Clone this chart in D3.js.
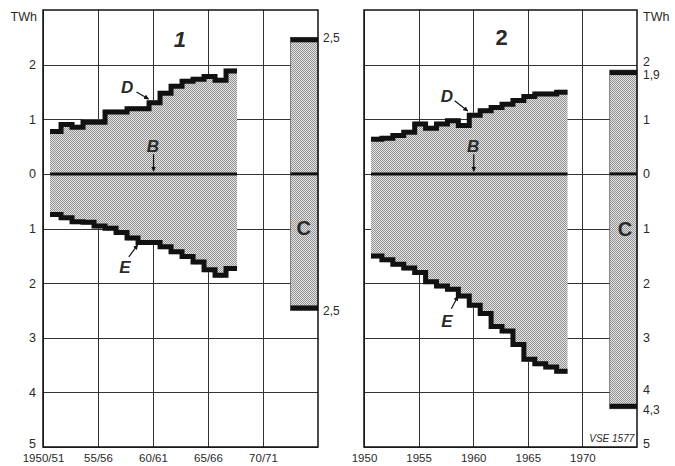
<!DOCTYPE html>
<html>
<head>
<meta charset="utf-8">
<script src="https://cdn.jsdelivr.net/npm/d3@7"></script>
<style>
    body { margin: 0; background: #fff; }
    text { font-family: "Liberation Sans", Arial, sans-serif; fill: #2a2a2a; }
</style>
</head>
<body>
<svg id="chart" width="675" height="466"></svg>
<script>
// Panel 1: hydrological years 1950/51 .. 1966/67
const years1 = ["1950/51", "1951/52", "1952/53", "1953/54", "1954/55", "1955/56", "1956/57", "1957/58", "1958/59",
    "1959/60", "1960/61", "1961/62", "1962/63", "1963/64", "1964/65", "1965/66", "1966/67"];
const d1 = [0.82, 0.95, 0.90, 0.99, 0.99, 1.18, 1.18, 1.24, 1.24, 1.35, 1.52, 1.65, 1.74, 1.78, 1.83, 1.76, 1.93];
const e1 = [0.79, 0.85, 0.92, 0.93, 1.00, 1.04, 1.12, 1.22, 1.30, 1.30, 1.38, 1.47, 1.56, 1.66, 1.80, 1.90, 1.78];
const c1 = [2.5, 2.5];   // C: top, bottom

// Panel 2: years 1951 .. 1968
const years2 = [1951, 1952, 1953, 1954, 1955, 1956, 1957, 1958, 1959, 1960, 1961, 1962, 1963, 1964, 1965, 1966, 1967, 1968];
const d2 = [0.68, 0.70, 0.75, 0.81, 0.96, 0.88, 0.96, 1.02, 0.93, 1.12, 1.20, 1.26, 1.32, 1.39, 1.46, 1.51, 1.51, 1.54];
const e2 = [1.55, 1.62, 1.70, 1.77, 1.85, 2.02, 2.10, 2.16, 2.28, 2.45, 2.60, 2.84, 2.92, 3.17, 3.44, 3.52, 3.58, 3.66];
const c2 = [1.9, 4.3];

// tick labels
const xTickValues = [1950, 1955, 1960, 1965, 1970];
const xLabels1 = ["1950/51", "55/56", "60/61", "65/66", "70/71"];
const xLabels2 = ["1950", "1955", "1960", "1965", "1970"];
const yTickValues = [2, 1, 0, -1, -2, -3, -4, -5];

const svg = d3.select('#chart');

// stippled fill
const defs = svg.append('defs');
const pat = defs.append('pattern')
    .attr('id', 'dots')
    .attr('width', 2).attr('height', 2)
    .attr('patternUnits', 'userSpaceOnUse');
pat.append('rect').attr('width', 2).attr('height', 2).attr('fill', '#e4e4e4');
pat.append('rect').attr('width', 1).attr('height', 1).attr('fill', '#929292');
pat.append('rect').attr('x', 1).attr('y', 1).attr('width', 1).attr('height', 1).attr('fill', '#929292');

defs.append('marker')
    .attr('id', 'arrow')
    .attr('viewBox', '0 0 10 10')
    .attr('refX', 9).attr('refY', 5)
    .attr('markerWidth', 5).attr('markerHeight', 5)
    .attr('markerUnits', 'userSpaceOnUse')
    .attr('orient', 'auto')
    .append('path').attr('d', 'M0,0L10,5L0,10Z').attr('fill', '#111');

const y = d3.scaleLinear().domain([3, -5]).range([10, 447]);

const STEP_START = 1950.64;   // first step begins a bit after the 1950 grid line
const C_FROM = 1972.5, C_TO = 1975;

function drawPanel(p) {
    const x = d3.scaleLinear().domain([1950, 1975]).range([p.left, p.right]);
    const g = svg.append('g');

    // grid
    g.selectAll('.hgrid').data(yTickValues).enter().append('line')
        .attr('x1', x(1950)).attr('x2', x(1975))
        .attr('y1', d => Math.round(y(d)) + 0.5).attr('y2', d => Math.round(y(d)) + 0.5)
        .attr('stroke', '#333').attr('stroke-width', 1);
    g.selectAll('.vgrid').data(xTickValues).enter().append('line')
        .attr('x1', d => Math.round(x(d)) + 0.5).attr('x2', d => Math.round(x(d)) + 0.5)
        .attr('y1', y(3)).attr('y2', y(-5))
        .attr('stroke', '#333').attr('stroke-width', 1);

    // stepped series
    let pts = p.d.map((v, i) => ({ t: STEP_START + i, d: v, e: p.e[i] }));
    let last = pts[pts.length - 1];
    pts.push({ t: last.t + 1, d: last.d, e: last.e });

    const area = d3.area()
        .x(d => x(d.t))
        .y0(d => y(-d.e))
        .y1(d => y(d.d))
        .curve(d3.curveStepAfter);
    g.append('path').attr('d', area(pts)).attr('fill', 'url(#dots)');

    const lineD = d3.line().x(d => x(d.t)).y(d => y(d.d)).curve(d3.curveStepAfter);
    const lineE = d3.line().x(d => x(d.t)).y(d => y(-d.e)).curve(d3.curveStepAfter);
    g.append('path').attr('d', lineD(pts)).attr('fill', 'none')
        .attr('stroke', '#111').attr('stroke-width', 5).attr('transform', 'translate(0,2.5)');
    g.append('path').attr('d', lineE(pts)).attr('fill', 'none')
        .attr('stroke', '#111').attr('stroke-width', 5).attr('transform', 'translate(0,-2.5)');

    // B: zero line through the series
    g.append('line')
        .attr('x1', x(STEP_START)).attr('x2', x(last.t + 1))
        .attr('y1', y(0)).attr('y2', y(0))
        .attr('stroke', '#111').attr('stroke-width', 3);

    // C bar
    g.append('rect')
        .attr('x', x(C_FROM)).attr('width', x(C_TO) - x(C_FROM))
        .attr('y', y(p.c[0])).attr('height', y(-p.c[1]) - y(p.c[0]))
        .attr('fill', 'url(#dots)').attr('stroke', '#555').attr('stroke-width', 0.7);
    g.append('rect')
        .attr('x', x(C_FROM)).attr('width', x(C_TO) - x(C_FROM))
        .attr('y', y(p.c[0])).attr('height', 5).attr('fill', '#111');
    g.append('rect')
        .attr('x', x(C_FROM)).attr('width', x(C_TO) - x(C_FROM))
        .attr('y', y(-p.c[1]) - 5).attr('height', 5).attr('fill', '#111');
    g.append('line')
        .attr('x1', x(C_FROM)).attr('x2', x(C_TO))
        .attr('y1', y(0)).attr('y2', y(0))
        .attr('stroke', '#111').attr('stroke-width', 3);

    // frame
    g.append('rect')
        .attr('x', x(1950)).attr('y', y(3))
        .attr('width', x(1975) - x(1950)).attr('height', y(-5) - y(3))
        .attr('fill', 'none').attr('stroke', '#111').attr('stroke-width', 1.5);

    // x axis labels
    const xAxis = g.append('g')
        .attr('transform', 'translate(0,' + y(-5) + ')')
        .call(d3.axisBottom(x).tickValues(xTickValues).tickFormat((d, i) => p.xLabels[i]).tickSize(0).tickPadding(7));
    xAxis.select('.domain').remove();
    xAxis.selectAll('text').style('font-size', '11.5px').style('font-family', '"Liberation Sans", Arial, sans-serif').attr('fill', '#2a2a2a');

    // y axis labels
    const yAxisGen = p.yRight ? d3.axisRight(y) : d3.axisLeft(y);
    const yAxis = g.append('g')
        .attr('transform', 'translate(' + (p.yRight ? x(1975) : x(1950)) + ',0)')
        .call(yAxisGen.tickValues(yTickValues).tickFormat(d => Math.abs(d)).tickSize(0).tickPadding(p.yRight ? 6 : 7));
    yAxis.select('.domain').remove();
    yAxis.selectAll('text').style('font-size', '12.5px').style('font-family', '"Liberation Sans", Arial, sans-serif').attr('fill', '#2a2a2a');
    if (p.yRight) {
        yAxis.selectAll('.tick').filter(d => d === 2 || d === -4).select('text').attr('dy', '0.1em');
    }
    yAxis.selectAll('.tick').filter(d => d === -5).select('text').attr('dy', '0.05em');

    g.append('text')
        .attr('x', p.yRight ? x(1975) + 6 : x(1950) - 6)
        .attr('y', y(3) + 11)
        .attr('text-anchor', p.yRight ? 'start' : 'end')
        .style('font-size', '12.5px')
        .text('TWh');

    return x;
}

const x1 = drawPanel({ left: 43, right: 318, d: d1, e: e1, c: c1, xLabels: xLabels1, yRight: false });
const x2 = drawPanel({ left: 364, right: 637, d: d2, e: e2, c: c2, xLabels: xLabels2, yRight: true });

// extra value labels beside the C bars
function valueLabel(x, val, txt, dy) {
    svg.append('text')
        .attr('x', x).attr('y', y(val) + (dy || 0))
        .attr('dy', '0.35em')
        .style('font-size', '12px')
        .text(txt);
}
valueLabel(x1(1975) + 5, 2.5, '2,5');
valueLabel(x1(1975) + 5, -2.5, '2,5');
valueLabel(x2(1975) + 6, 1.9, '1,9', 5);
valueLabel(x2(1975) + 6, -4.3, '4,3', 1);

// annotation letters
function letter(x, yy, txt, size, italic) {
    svg.append('text')
        .attr('x', x).attr('y', yy)
        .attr('text-anchor', 'middle').attr('dy', '0.35em')
        .style('font-size', size + 'px').style('font-weight', 'bold')
        .style('font-style', italic ? 'italic' : 'normal')
        .attr('fill', '#111')
        .text(txt);
}
function arrow(xa, ya, xb, yb) {
    svg.append('line')
        .attr('x1', xa).attr('y1', ya).attr('x2', xb).attr('y2', yb)
        .attr('stroke', '#111').attr('stroke-width', 1.2)
        .attr('marker-end', 'url(#arrow)');
}

// panel 1
letter(x1(1962.45), y(2.47), '1', 22, true);
letter(x1(1957.64), y(1.59), 'D', 17, true);
arrow(x1(1958.5), y(1.50), x1(1959.6), y(1.37));
letter(x1(1960), y(0.51), 'B', 17, true);
arrow(x1(1960.05), y(0.36), x1(1960.05), y(0.05));
letter(x1(1957.45), y(-1.70), 'E', 17, true);
arrow(x1(1957.8), y(-1.52), x1(1958.6), y(-1.30));
letter(x1(1973.7), y(-0.99), 'C', 20, false);

// panel 2
letter(x2(1962.6), y(2.5), '2', 22, false);
letter(x2(1957.6), y(1.43), 'D', 17, true);
arrow(x2(1958.3), y(1.34), x2(1959.5), y(1.15));
letter(x2(1960), y(0.51), 'B', 17, true);
arrow(x2(1960.05), y(0.36), x2(1960.05), y(0.05));
letter(x2(1957.6), y(-2.69), 'E', 17, true);
arrow(x2(1958.0), y(-2.47), x2(1958.6), y(-2.24));
letter(x2(1973.9), y(-1.0), 'C', 20, false);

svg.append('text')
    .attr('x', x2(1974.75)).attr('y', y(-4.9))
    .attr('text-anchor', 'end')
    .style('font-size', '10px').style('font-style', 'italic')
    .text('VSE 1577');
</script>
</body>
</html>
